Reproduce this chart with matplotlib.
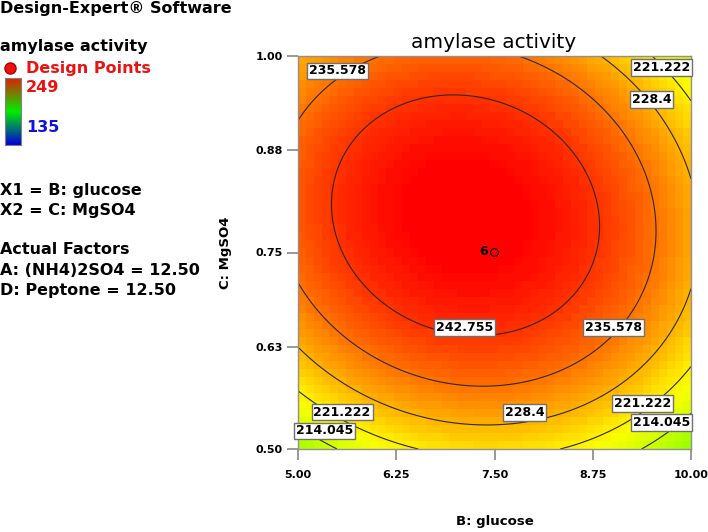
import numpy as np
import matplotlib
matplotlib.use("Agg")
import matplotlib.pyplot as plt
from matplotlib.colors import ListedColormap, LinearSegmentedColormap, Normalize

plt.rcParams['font.family'] = ['DejaVu Sans']

# factor ranges (actual units) and ticks
glucose_range = [5.00, 10.00]
mgso4_range = [0.50, 1.00]
glucose_ticks = [5.00, 6.25, 7.50, 8.75, 10.00]
mgso4_ticks = [0.50, 0.63, 0.75, 0.88, 1.00]

# quadratic model in coded units
coef_intercept = 248.87
coef_B = -3.91
coef_C = 6.73
coef_BB = -15.26
coef_CC = -18.94
coef_BC = -3.10

response_min = 135
response_max = 249
contour_levels = [214.045, 221.222, 228.4, 235.578, 242.755]

# design point (center point, 6 replicates)
design_glucose = [7.50]
design_mgso4 = [0.75]
design_reps = ["6"]

# where Design-Expert put the contour labels: (level index, glucose, mgso4)
label_spots = [
    (3, 5.50, 0.981), (1, 9.63, 0.985), (2, 9.50, 0.945),
    (4, 7.12, 0.655), (3, 9.01, 0.655),
    (1, 5.56, 0.547), (0, 5.34, 0.523), (2, 7.88, 0.546),
    (1, 9.38, 0.558), (0, 9.63, 0.534),
]


def model(b, c):
    X = (b - 7.5) / 2.5
    Y = (c - 0.75) / 0.25
    return (coef_intercept + coef_B * X + coef_C * Y + coef_BB * X ** 2
            + coef_CC * Y ** 2 + coef_BC * X * Y)


fig = plt.figure(figsize=(7.08, 5.32), dpi=100)
ax = fig.add_axes([298 / 708, 1 - 449 / 532, 393 / 708, 393 / 532])

# blocky colour surface like the original
ncell = 49
be = np.linspace(glucose_range[0], glucose_range[1], ncell + 1)
ce = np.linspace(mgso4_range[0], mgso4_range[1], ncell + 1)
bc = (be[:-1] + be[1:]) / 2
cc = (ce[:-1] + ce[1:]) / 2
BC, CC = np.meshgrid(bc, cc)
surf_cmap = ListedColormap(plt.cm.hsv(np.linspace(2 / 3, 0, 256)))
norm = Normalize(vmin=response_min, vmax=response_max)
ax.pcolormesh(be, ce, model(BC, CC), cmap=surf_cmap, norm=norm, shading='flat')

bf = np.linspace(glucose_range[0], glucose_range[1], 300)
cf = np.linspace(mgso4_range[0], mgso4_range[1], 300)
BF, CF = np.meshgrid(bf, cf)
ax.contour(BF, CF, model(BF, CF), levels=contour_levels, colors='#2a2a2a',
           linewidths=0.8)

for idx, xb, yc in label_spots:
    lev = contour_levels[idx]
    txt = f"{lev:g}"
    ax.text(xb, yc, txt, ha='center', va='center', fontsize=9, fontweight='bold',
            zorder=5,
            bbox=dict(boxstyle='square,pad=0.15', fc='white', ec='#707070', lw=1.0))

ax.scatter(design_glucose, design_mgso4, s=30, facecolors='none',
           edgecolors='black', linewidths=0.8, zorder=6)
for xb, yc, n in zip(design_glucose, design_mgso4, design_reps):
    ax.annotate(n, (xb, yc), xytext=(-5, 1), textcoords='offset points',
                ha='right', va='center', fontsize=9, fontweight='bold')

ax.set_xlim(glucose_range)
ax.set_ylim(mgso4_range)
ax.set_xticks(glucose_ticks)
ax.set_yticks(mgso4_ticks)
ax.set_xticklabels([f"{t:.2f}" for t in glucose_ticks])
ax.set_yticklabels([f"{t:.2f}" for t in mgso4_ticks])
ax.tick_params(length=8, width=1.3, color='#909090', labelsize=8)
ax.tick_params(axis='x', pad=7)
ax.tick_params(axis='y', pad=3)
for lab in ax.get_xticklabels() + ax.get_yticklabels():
    lab.set_fontweight('bold')
for sp in ax.spines.values():
    sp.set_color('#909090')
    sp.set_linewidth(1.0)

ax.set_xlabel("B: glucose", fontsize=9.5, fontweight='bold')
ax.set_ylabel("C: MgSO4", fontsize=9.5, fontweight='bold')
ax.xaxis.label.set_va('center')
ax.yaxis.label.set_va('center')
ax.xaxis.set_label_coords(0.5, -(522 - 449) / 393)
ax.yaxis.set_label_coords((225 - 298) / 393, 0.5)

fig.text(494 / 708, 1 - 42 / 532, "amylase activity", ha='center', va='center',
         fontsize=14.5)

# left info panel
W, H = 708, 532


def ptxt(x, y, s, **kw):
    fig.text(x / W, 1 - y / H, s, ha='left', va='center', fontsize=11.5,
             fontweight='bold', **kw)


ptxt(0, 8, "Design-Expert® Software")
ptxt(0, 46, "amylase activity")
ptxt(26, 68, "Design Points", color='#ee1111')
fig.add_artist(plt.Line2D([10 / W], [1 - 68 / H], marker='o', markersize=8,
                          color='#ee1111', markeredgecolor='#aa0000',
                          transform=fig.transFigure))
ptxt(26, 88, "249", color='#ee1111')
ptxt(26, 128, "135", color='#1111dd')
cax = fig.add_axes([5 / W, 1 - 145 / H, 16 / W, 67 / H])
bar_cmap = LinearSegmentedColormap.from_list('bar', ['#0000dd', '#00ee00', '#dd2200'])
cax.imshow(np.linspace(0, 1, 100)[:, None], cmap=bar_cmap, aspect='auto',
           origin='lower')
cax.set_xticks([])
cax.set_yticks([])
for sp in cax.spines.values():
    sp.set_color('#808080')

ptxt(0, 190, "X1 = B: glucose")
ptxt(0, 210, "X2 = C: MgSO4")
ptxt(0, 250, "Actual Factors")
ptxt(0, 270, "A: (NH4)2SO4 = 12.50")
ptxt(0, 291, "D: Peptone = 12.50")

fig.savefig("out.png", dpi=100)
